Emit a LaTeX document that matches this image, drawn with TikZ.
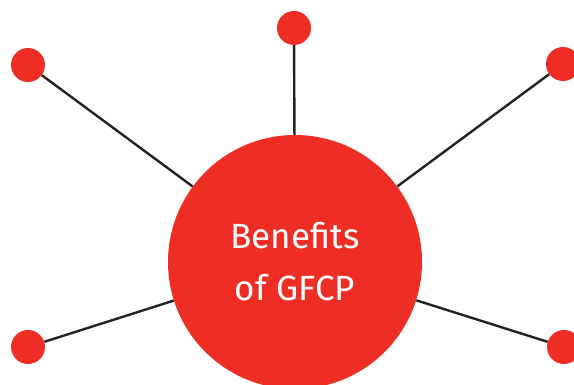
\documentclass[tikz,border=0pt]{standalone}
\usepackage{fontspec}
\setmainfont{Fira Sans}
\definecolor{gfcpred}{HTML}{EE2E24}
\definecolor{spoke}{HTML}{222222}
\begin{document}
\begin{tikzpicture}[
    x=1pt, y=1pt,
    hub/.style={circle, fill=gfcpred, minimum size=254pt, inner sep=0pt, text=white,
                font=\fontsize{35}{52}\selectfont, align=center},
    dot/.style={circle, fill=gfcpred, minimum size=34pt, inner sep=0pt},
    spokeline/.style={draw=spoke, line width=2.4pt}
]
\useasboundingbox (0,0) rectangle (574,385);

% Hub
\node[hub] (hub) at (295,123) {Benefits\\of GFCP};

% Outer dots
\node[dot] (topleft)  at ( 28,320) {};
\node[dot] (top)      at (294,357) {};
\node[dot] (topright) at (563,321) {};
\node[dot] (botleft)  at ( 28, 38) {};
\node[dot] (botright) at (564, 38) {};

% Spokes
\draw[spokeline] (topleft) -- (hub);
\draw[spokeline] (top) -- (hub);
\draw[spokeline] (topright) -- (hub);
\draw[spokeline] (botleft) -- (hub);
\draw[spokeline] (botright) -- (hub);

\end{tikzpicture}
\end{document}
